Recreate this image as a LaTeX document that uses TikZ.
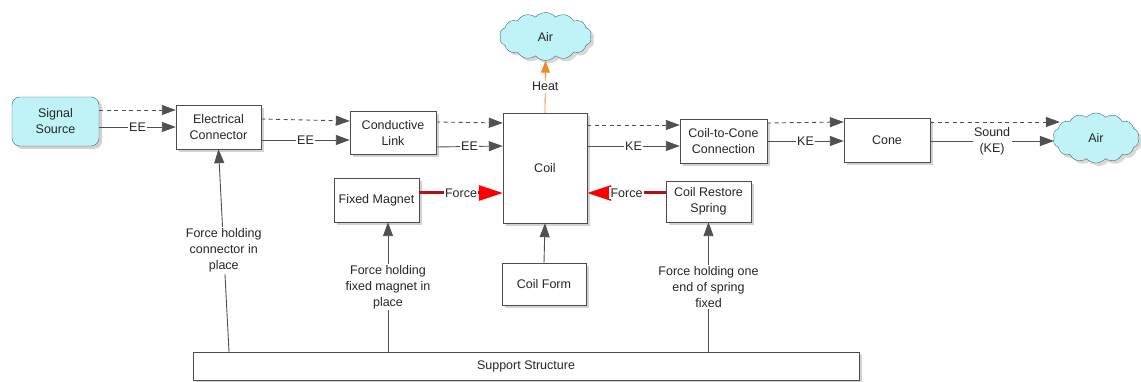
\documentclass[tikz,border=0pt]{standalone}
\usepackage{fontspec}
\setmainfont{Liberation Sans}
\usetikzlibrary{arrows.meta,shapes.symbols,shadows}

\definecolor{skyfill}{RGB}{192,243,247}
\definecolor{skyline}{RGB}{70,105,110}
\definecolor{wire}{RGB}{80,80,80}
\definecolor{forcered}{RGB}{185,15,15}
\definecolor{heatorange}{RGB}{240,140,40}

\begin{document}
\begin{tikzpicture}[x=1pt, y=-1pt,
    font=\fontsize{12.5}{16}\selectfont,
    block/.style={draw=black!70, fill=white, text=black!85, align=center, inner sep=2pt,
        minimum width=85pt, minimum height=44pt,
        drop shadow={shadow xshift=3pt, shadow yshift=-3pt, fill=black!35}},
    sky/.style={cloud, cloud puffs=14, cloud puff arc=100, aspect=1.9, draw=skyline, fill=skyfill,
        text=black!85, minimum width=92pt, minimum height=48pt,
        drop shadow={shadow xshift=3pt, shadow yshift=-3pt, fill=black!30}},
    flow/.style={draw=wire, line width=0.9pt, -{Triangle[length=14pt,width=10pt]}},
    hint/.style={flow, dash pattern=on 4pt off 3.5pt},
    heat/.style={draw=heatorange, line width=0.8pt, -{Triangle[length=12pt,width=9pt]}},
    push/.style={draw=forcered, line width=3pt, -{Triangle[length=24pt,width=15pt,color=red]}},
    tag/.style={midway, fill=white, text=black!85, align=center, inner sep=1.5pt},
]
    \useasboundingbox (0,0) rectangle (1141,382);

    % --- Blocks ---
    \node[block, rounded corners=8pt, fill=skyfill, draw=skyline, minimum width=87pt, minimum height=49pt]
        (src) at (55.5,121.5) {Signal\\Source};
    \node[block] (econ) at (218.5,127) {Electrical\\Connector};
    \node[block, minimum width=86pt, minimum height=43pt] (link) at (393,132.5) {Conductive\\Link};
    \node[block, minimum width=84pt, minimum height=110pt] (coil) at (545,168) {Coil};
    \node[block, minimum width=87pt] (c2c) at (723.5,141) {Coil-to-Cone\\Connection};
    \node[block, minimum width=86pt] (cone) at (887,140) {Cone};
    \node[block] (magnet) at (376.5,200) {Fixed Magnet};
    \node[block, minimum height=41pt] (spring) at (708.5,201.5) {Coil Restore\\Spring};
    \node[block, minimum width=84pt, minimum height=42pt] (form) at (544,284) {Coil Form};
    \node[block, minimum width=666pt, minimum height=28pt] (support) at (526,366) {Support Structure};

    % --- Air ---
    \node[sky] (airtop) at (545.5,36.5) {Air};
    \node[sky, minimum width=86pt, minimum height=50pt] (airright) at (1096,138) {Air};

    % --- Signal chain (EE) ---
    \draw[hint] (src.east |- 0,110) -- (econ.west |- 0,110);
    \draw[flow] (src.east |- 0,127) -- node[tag] {EE} (econ.west |- 0,127);
    \draw[hint] (econ.east |- 0,119) -- (link.west |- 0,121);
    \draw[flow] (econ.east |- 0,140) -- node[tag] {EE} (link.west |- 0,140);
    \draw[hint] (link.east |- 0,122) -- (coil.west |- 0,123);
    \draw[flow] (link.east |- 0,147) -- node[tag] {EE} (coil.west |- 0,146);

    % --- Output chain (KE) ---
    \draw[hint] (coil.east |- 0,125) -- (c2c.west |- 0,125);
    \draw[flow] (coil.east |- 0,146) -- node[tag] {KE} (c2c.west |- 0,146);
    \draw[hint] (c2c.east |- 0,123) -- (cone.west |- 0,122);
    \draw[flow] (c2c.east |- 0,141) -- node[tag] {KE} (cone.west |- 0,141);
    \draw[hint] (cone.east |- 0,122) -- ([xshift=6pt]airright.west |- 0,122);
    \draw[flow] (cone.east |- 0,141) -- node[tag] {Sound\\(KE)} (airright.west |- 0,141);

    % heat goes up
    \draw[heat] (coil.north) -- node[tag] {Heat} (airtop.south);

    % --- Forces on the coil ---
    \draw[push] (magnet.east |- 0,193) -- node[tag] {Force} (coil.west |- 0,193);
    \draw[push] (spring.west |- 0,193) -- node[tag] {Force} (coil.east |- 0,193);

    % --- Support ---
    \draw[flow] (support.north -| 229,0) -- node[tag] {Force holding\\connector in\\place} (econ.south);
    \draw[flow] (support.north -| 388,0) -- node[tag] {Force holding\\fixed magnet in\\place} (magnet.south -| 388,0);
    \draw[flow] (support.north -| spring.south) -- node[tag] {Force holding one\\end of spring\\fixed} (spring.south);
    \draw[flow] (form.north) -- (coil.south);

\end{tikzpicture}
\end{document}
